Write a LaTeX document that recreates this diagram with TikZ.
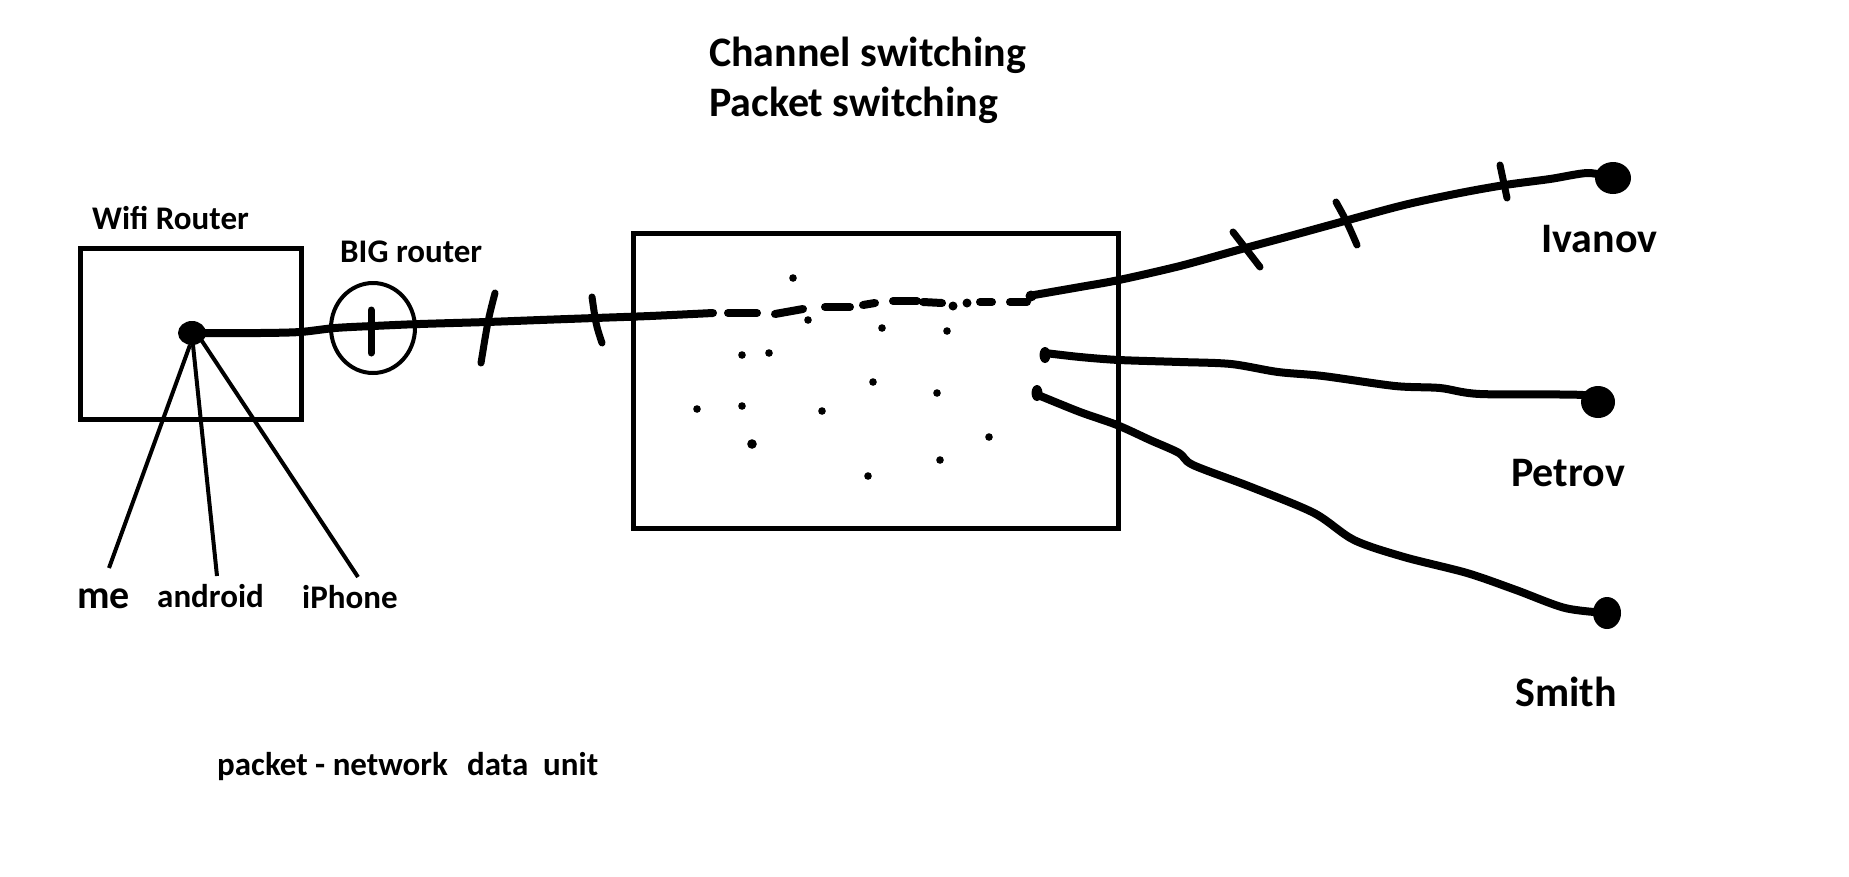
\documentclass[tikz,border=0pt]{standalone}
\usepackage{fontspec}
\setmainfont{Carlito}
\usetikzlibrary{shapes.geometric}
\begin{document}
\begin{tikzpicture}[x=1pt,y=-1pt,
  ink/.style={line width=8pt,line cap=round,line join=round},
  pen/.style={line width=5pt},
  wire/.style={line width=4pt},
  tick/.style={line width=7pt,line cap=round},
  lbl/.style={font=\bfseries\fontsize{33}{39}\selectfont,inner sep=0pt,anchor=base west},
  big/.style={font=\bfseries\fontsize{42}{50}\selectfont,inner sep=0pt,anchor=base west}
]
\useasboundingbox (0,0) rectangle (1849,876);

% titles and labels
\node[big] (t1) at (709,66) {Channel switching};
\node[big] (t2) at (709,116) {Packet switching};
\node[lbl] (wifi) at (92,229) {Wifi Router};
\node[lbl] (bigr) at (340,262) {BIG router};
\node[font=\bfseries\fontsize{40}{48}\selectfont,inner sep=0pt,anchor=base west] (me) at (77,608) {me};
\node[lbl] (android) at (157,607) {android};
\node[lbl] (iphone) at (302,608) {iPhone};
\node[big] (ivanov) at (1541,252) {Ivanov};
\node[big] (petrov) at (1511,486) {Petrov};
\node[big] (smith) at (1515,706) {Smith};
\node[lbl] (pk1) at (217,775) {packet - network};
\node[lbl] (pk2) at (467,775) {data};
\node[lbl] (pk3) at (543,775) {unit};

% boxes
\node[draw,pen,minimum width=221pt,minimum height=171pt,inner sep=0pt] (wifibox) at (190.5,333.5) {};
\node[draw,pen,minimum width=485pt,minimum height=295pt,inner sep=0pt] (net) at (875.5,380.5) {};
\node[draw,line width=4pt,ellipse,minimum width=84pt,minimum height=90pt,inner sep=0pt] (bigc) at (373,328) {};

% hub
\coordinate (hub) at (192,333);
\fill (hub) ellipse [x radius=14, y radius=12];

% device lines
\coordinate (meEnd) at (109,568);
\coordinate (anEnd) at (217,576);
\coordinate (ipEnd) at (358,577);
\draw[wire] (190,345) -- (meEnd);
\draw[wire] (193,345) -- (anEnd);
\draw[wire] (200,338) -- (ipEnd);

% main line
\draw[ink] plot[smooth,tension=0.5] coordinates {(hub) (205,333) (260,333) (300,332) (335,328) (373,326) (420,324) (487,322) (540,320) (595,318) (650,316) (713,313)};
\draw[tick] (371,310) -- (371,353);
\draw[tick] (495,293) .. controls (488,320) .. (481,363);
\draw[tick] (592,297) .. controls (596,325) .. (602,343);

% dashes inside network
\draw[ink] (728,313) -- (757,313);
\draw[ink] (775,314) -- (803,309);
\draw[ink] (825,307) -- (850,307);
\draw[ink] (863,305) -- (875,303);
\draw[ink] (893,301) -- (917,301);
\draw[ink] (923,302) -- (942,303);
\draw[ink] (980,302) -- (992,302);
\draw[ink] (1010,302) -- (1027,302);
\fill (953,306) circle (4.5);
\fill (967,303) circle (4.5);

% scattered points
\foreach \p in {(793,278),(808,320),(882,328),(947,331),(742,355),(769,353),(873,382),(937,393),(697,409),(742,406),(822,411),(989,437),(940,460),(868,476)}
  \fill \p circle (3.8);
\fill (752,444) circle (4.8);

% Ivanov line
\coordinate (ivS) at (1034,295);
\coordinate (ivE) at (1613,178);
\fill (1031,296) circle (5.5);
\draw[ink] plot[smooth,tension=0.5] coordinates {(ivS) (1080,287) (1119,280) (1180,266) (1238,250) (1290,236) (1341,222) (1404,205) (1460,193) (1505,185) (1550,179) (1588,173) (ivE)};
\fill (ivE) ellipse [x radius=18, y radius=16];
\draw[tick] (1233,232) -- (1260,267);
\draw[tick] (1336,202) .. controls (1347,222) .. (1357,245);
\draw[tick] (1500,165) -- (1507,198);

% Petrov line
\coordinate (peS) at (1045,353);
\coordinate (peE) at (1598,402);
\fill (1045,355) ellipse [x radius=5.5, y radius=8];
\draw[ink] plot[smooth,tension=0.5] coordinates {(peS) (1080,357) (1119,360) (1180,362) (1231,364) (1278,372) (1323,376) (1395,386) (1440,388) (1480,394) (1583,395) (peE)};
\fill (peE) ellipse [x radius=17, y radius=16];

% Smith line
\coordinate (smS) at (1038,395);
\coordinate (smE) at (1607,613);
\fill (1037,393) ellipse [x radius=5.5, y radius=8];
\draw[ink] plot[smooth,tension=0.5] coordinates {(smS) (1080,412) (1117,425) (1150,440) (1179,453) (1193,465) (1251,487) (1314,513) (1354,540) (1404,557) (1467,573) (1516,590) (1565,608) (smE)};
\fill (smE) ellipse [x radius=14, y radius=16];
\end{tikzpicture}
\end{document}
